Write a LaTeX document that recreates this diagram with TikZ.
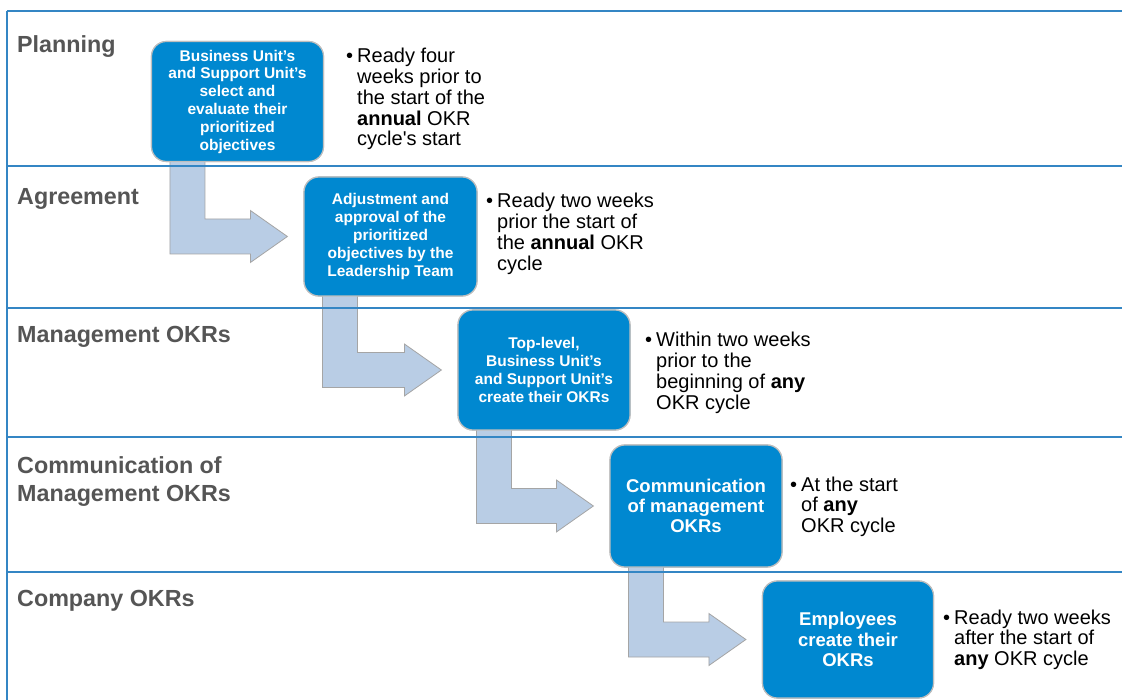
\documentclass[tikz,border=0pt]{standalone}
\usepackage{fontspec}
\usepackage{textcomp}
\setmainfont{Liberation Sans}
\usetikzlibrary{calc}
\definecolor{laneline}{RGB}{52,134,196}
\definecolor{stepblue}{RGB}{0,136,208}
\definecolor{stepedge}{RGB}{190,190,190}
\definecolor{arrowfill}{RGB}{185,205,229}
\definecolor{arrowedge}{RGB}{165,165,165}
\definecolor{lanetext}{RGB}{85,85,85}
\tikzset{
  lanerule/.style={draw=laneline, line width=1.8pt},
  lanelabel/.style={anchor=base west, inner sep=0pt, text=lanetext,
    font=\fontsize{23.3}{28}\selectfont\bfseries, align=left},
  stepbox/.style={draw=stepedge, line width=1.2pt, fill=stepblue, rounded corners=15pt,
    minimum width=172pt, minimum height=120pt, text=white, align=center, inner sep=2pt,
    font=\fontsize{15.5}{17.8}\selectfont\bfseries},
  bigstep/.style={stepbox, font=\fontsize{18.5}{20.2}\selectfont\bfseries},
  note/.style={anchor=base west, inner sep=0pt, font=\fontsize{20}{20.7}\selectfont},
  bentarrow/.style={fill=arrowfill, draw=arrowedge, line width=0.8pt, line join=miter}
}
% bent block arrow from the bottom of one step to the left side of the next
\newcommand{\bentarrow}[2]{%
  \path[bentarrow] let \p1=(#1.south west), \p2=(#2.west) in
    (\x1+19pt,\y1+6pt) -- (\x1+19pt,\y2-17.5pt) -- (\x2-53pt,\y2-17.5pt)
    -- (\x2-53pt,\y2-26pt) -- (\x2-16pt,\y2) -- (\x2-53pt,\y2+26pt)
    -- (\x2-53pt,\y2+17.5pt) -- (\x1+54pt,\y2+17.5pt) -- (\x1+54pt,\y1+6pt) -- cycle;}
\newcommand{\bulletnote}[1]{\begin{tabular}[t]{@{}l@{\hspace{4pt}}l@{}}#1\end{tabular}}
% step texts
\newcommand{\stepA}{Business Unit's\\and Support Unit's\\select and\\evaluate their\\prioritized\\objectives}
\newcommand{\stepB}{Adjustment and\\approval of the\\prioritized\\objectives by the\\Leadership Team}
\newcommand{\stepC}{Top-level,\\Business Unit's\\and Support Unit's\\create their OKRs}
\newcommand{\stepD}{Communication\\of management\\OKRs}
\newcommand{\stepE}{Employees\\create their\\OKRs}
\begin{document}
\begin{tikzpicture}[x=1pt,y=-1pt]
\useasboundingbox[fill=white] (0,0) rectangle (1122,700);

% steps (placed first so the arrows can refer to them)
\node[stepbox] (b1) at (237.5,101.5) {\stepA};
\node[stepbox, minimum width=173pt, minimum height=119pt] (b2) at (390.5,236.5) {\stepB};
\node[stepbox] (b3) at (544,370) {\stepC};
\node[bigstep, minimum height=122pt] (b4) at (696,506) {\stepD};
\node[bigstep, minimum width=171pt, minimum height=117pt] (b5) at (848,639.5) {\stepE};

% arrows between steps
\bentarrow{b1}{b2}
\bentarrow{b2}{b3}
\bentarrow{b3}{b4}
\bentarrow{b4}{b5}

% boxes again on top of the arrow ends
\node[stepbox] at (b1) {\stepA};
\node[stepbox, minimum width=173pt, minimum height=119pt] at (b2) {\stepB};
\node[stepbox] at (b3) {\stepC};
\node[bigstep, minimum height=122pt] at (b4) {\stepD};
\node[bigstep, minimum width=171pt, minimum height=117pt] at (b5) {\stepE};

% lane frame
\coordinate (topleft) at (7,11);
\coordinate (bottomleft) at (7,701);
\draw[lanerule] (topleft) -- (bottomleft);
\foreach \y [count=\i] in {11,166,308,437,572}
  \draw[lanerule] (7,\y) coordinate (l\i) -- (1123,\y) coordinate (r\i);

% lane titles
\node[lanelabel] (lp) at (17,53) {Planning};
\node[lanelabel] (la) at (17,205) {Agreement};
\node[lanelabel] (lm) at (17,343) {Management OKRs};
\node[lanelabel] (lc) at (17,501) {Communication of\\Management OKRs};
\node[lanelabel] (lo) at (17,606) {Company OKRs};

% timing notes
\node[note] (n1) at (346,63) {\bulletnote{\textbullet & Ready four\\ & weeks prior to\\ & the start of the\\ & \textbf{annual} OKR\\ & cycle\textquotesingle s start}};
\node[note] (n2) at (486,208) {\bulletnote{\textbullet & Ready two weeks\\ & prior the start of\\ & the \textbf{annual} OKR\\ & cycle}};
\node[note] (n3) at (645,347) {\bulletnote{\textbullet & Within two weeks\\ & prior to the\\ & beginning of \textbf{any}\\ & OKR cycle}};
\node[note] (n4) at (790,491) {\bulletnote{\textbullet & At the start\\ & of \textbf{any}\\ & OKR cycle}};
\node[note] (n5) at (943,624) {\bulletnote{\textbullet & Ready two weeks\\ & after the start of\\ & \textbf{any} OKR cycle}};
\end{tikzpicture}
\end{document}
